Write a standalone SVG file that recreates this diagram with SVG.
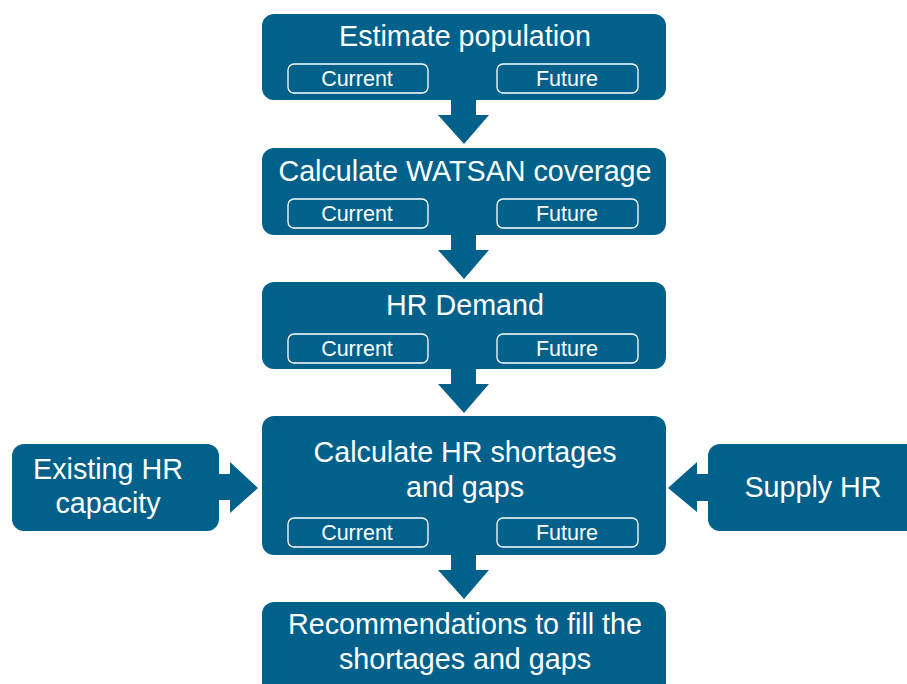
<svg xmlns="http://www.w3.org/2000/svg" width="907" height="684" viewBox="0 0 907 684">
  <style>
    .box { fill: #02618b; }
    .sub { fill: none; stroke: #ffffff; stroke-width: 1.3; }
    .title { font-family: "Liberation Sans", Arial, sans-serif; font-size: 28.7px; fill: #ffffff; text-anchor: middle; }
    .label { font-family: "Liberation Sans", Arial, sans-serif; font-size: 21.5px; fill: #ffffff; text-anchor: middle; }
    .arrow { fill: #02618b; }
  </style>
  <rect width="907" height="684" fill="#ffffff"/>

  <!-- block arrows -->
  <g id="connectors">
    <polygon class="arrow" points="451,98 476,98 476,115 489,115 464,144 438,115 451,115"/>
    <polygon class="arrow" points="451,233 476,233 476,250 489,250 464,279 438,250 451,250"/>
    <polygon class="arrow" points="451,367 476,367 476,384 489,384 464,413 438,384 451,384"/>
    <polygon class="arrow" points="451,553 476,553 476,570 489,570 464,599 438,570 451,570"/>
    <polygon class="arrow" points="217,474 230,474 230,462 258,488 230,513 230,500 217,500"/>
    <polygon class="arrow" points="710,474 697,474 697,462 668,488 697,512 697,501 710,501"/>
  </g>

  <g id="estimate-population">
    <rect class="box" x="262" y="14" width="404" height="86" rx="12"/>
    <text class="title" x="465" y="46">Estimate population</text>
    <rect class="sub" x="288" y="64" width="140" height="29" rx="6"/>
    <text class="label" x="357" y="86">Current</text>
    <rect class="sub" x="497" y="64" width="141" height="29" rx="6"/>
    <text class="label" x="567" y="86">Future</text>
  </g>

  <g id="watsan-coverage">
    <rect class="box" x="262" y="148" width="404" height="87" rx="12"/>
    <text class="title" x="465" y="181">Calculate WATSAN coverage</text>
    <rect class="sub" x="288" y="199" width="140" height="29" rx="6"/>
    <text class="label" x="357" y="221">Current</text>
    <rect class="sub" x="497" y="199" width="141" height="29" rx="6"/>
    <text class="label" x="567" y="221">Future</text>
  </g>

  <g id="hr-demand">
    <rect class="box" x="262" y="282" width="404" height="87" rx="12"/>
    <text class="title" x="465" y="315">HR Demand</text>
    <rect class="sub" x="288" y="334" width="140" height="29" rx="6"/>
    <text class="label" x="357" y="356">Current</text>
    <rect class="sub" x="497" y="334" width="141" height="29" rx="6"/>
    <text class="label" x="567" y="356">Future</text>
  </g>

  <g id="hr-shortages">
    <rect class="box" x="262" y="416" width="404" height="139" rx="12"/>
    <text class="title" x="465" y="462">Calculate HR shortages</text>
    <text class="title" x="465" y="497">and gaps</text>
    <rect class="sub" x="288" y="518" width="140" height="29" rx="6"/>
    <text class="label" x="357" y="540">Current</text>
    <rect class="sub" x="497" y="518" width="141" height="29" rx="6"/>
    <text class="label" x="567" y="540">Future</text>
  </g>

  <g id="existing-capacity">
    <rect class="box" x="12" y="444" width="207" height="87" rx="12"/>
    <text class="title" x="108" y="479">Existing HR</text>
    <text class="title" x="108" y="513">capacity</text>
  </g>

  <g id="supply-hr">
    <rect class="box" x="708" y="444" width="215" height="87" rx="12"/>
    <text class="title" x="813" y="497">Supply HR</text>
  </g>

  <g id="recommendations">
    <rect class="box" x="262" y="602" width="404" height="100" rx="12"/>
    <text class="title" x="465" y="634">Recommendations to fill the</text>
    <text class="title" x="465" y="669">shortages and gaps</text>
  </g>
</svg>
